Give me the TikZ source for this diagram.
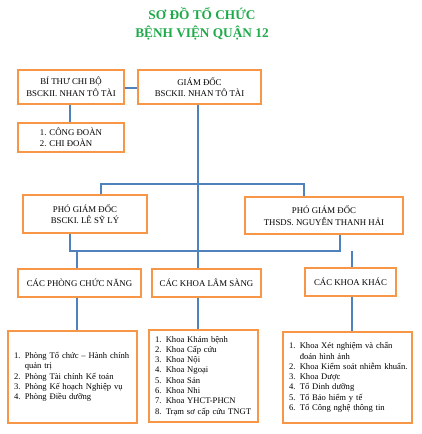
\documentclass[tikz,border=0pt]{standalone}
\usepackage{fontspec}
\setmainfont{Liberation Serif}
\definecolor{boxorange}{HTML}{F79646}
\definecolor{linkblue}{HTML}{4F81BD}
\definecolor{titlegreen}{HTML}{1FAA4A}
\begin{document}
\begin{tikzpicture}[x=1pt,y=-1pt,
  box/.style={draw=boxorange,line width=1.3pt,fill=white,inner sep=2pt,align=center,font=\fontsize{8.8}{11.5}\selectfont},
  listbox/.style={draw=boxorange,line width=1.3pt,fill=white,inner xsep=6pt,inner ysep=2pt,align=left,font=\fontsize{8.6}{10.3}\selectfont},
  link/.style={draw=linkblue,line width=1.3pt},
  title/.style={font=\fontsize{13.3}{18}\selectfont\bfseries,text=titlegreen,align=center}]
\useasboundingbox (0,0) rectangle (422,434);
\node[title] (t) at (202,24) {SƠ ĐỒ TỔ CHỨC\\BỆNH VIỆN QUẬN 12};
% level 1
\node[box,minimum width=106pt,minimum height=34pt] (bt) at (71,87) {BÍ THƯ CHI BỘ\\BSCKII. NHAN TÔ TÀI};
\node[box,minimum width=123pt,minimum height=34pt] (gd) at (199.5,87) {GIÁM ĐỐC\\BSCKII. NHAN TÔ TÀI};
\node[box,minimum width=106pt,minimum height=29pt,align=left] (cd) at (71,137.5) {1. CÔNG ĐOÀN\\2. CHI ĐOÀN};
% level 2
\node[box,minimum width=124pt,minimum height=38pt] (pgd1) at (85,214) {PHÓ GIÁM ĐỐC\\BSCKI. LÊ SỸ LÝ};
\node[box,minimum width=158pt,minimum height=37pt] (pgd2) at (324,215.5) {PHÓ GIÁM ĐỐC\\THSDS. NGUYỄN THANH HẢI};
% level 3
\node[box,minimum width=123pt,minimum height=28pt] (cpcn) at (79.5,283) {CÁC PHÒNG CHỨC NĂNG};
\node[box,minimum width=109pt,minimum height=28pt] (ckls) at (206.5,283) {CÁC KHOA LÂM SÀNG};
\node[box,minimum width=91pt,minimum height=28pt] (ckk) at (350.5,282) {CÁC KHOA KHÁC};
% level 4
\node[listbox,text width=117pt,minimum height=92pt] (b1) at (72.5,377) {1. Phòng Tổ chức – Hành chính\\\hphantom{1. }quản trị\\2. Phòng Tài chính Kế toán\\3. Phòng Kế hoạch Nghiệp vụ\\4. Phòng Điều dưỡng};
\node[listbox,text width=97pt,minimum height=92pt] (b2) at (203.5,376) {1. Khoa Khám bệnh\\2. Khoa Cấp cứu\\3. Khoa Nội\\4. Khoa Ngoại\\5. Khoa Sản\\6. Khoa Nhi\\7. Khoa YHCT-PHCN\\\mbox{8. Trạm sơ cấp cứu TNGT}};
\node[listbox,text width=117pt,minimum height=91pt] (b3) at (347.5,377.5) {1. Khoa Xét nghiệm và chẩn\\\hphantom{1. }đoán hình ảnh\\\mbox{2. Khoa Kiểm soát nhiễm khuẩn.}\\3. Khoa Dược\\4. Tổ Dinh dưỡng\\5. Tổ Bảo hiểm y tế\\6. Tổ Công nghệ thông tin};
% helper coordinates
\coordinate (xc) at (198,0);
\coordinate (xbt) at (70,0);
\coordinate (xp1) at (101,0);
\coordinate (xp2) at (304,0);
\coordinate (xq1) at (70,0);
\coordinate (xq2) at (340,0);
\coordinate (xl) at (77,0);
\coordinate (xr) at (352,0);
\coordinate (ya) at (0,184);
\coordinate (yb) at (0,251);
\coordinate (yc) at (0,88);
\coordinate (ja) at (xc |- ya);
\coordinate (jb) at (xc |- yb);
% connectors
\draw[link] (bt.east |- yc) -- (gd.west |- yc);
\draw[link] (bt.south -| xbt) -- (cd.north -| xbt);
\draw[link] (gd.south -| xc) -- (ja) -- (jb) -- (ckls.north -| xc);
\draw[link] (pgd1.north -| xp1) -- (ya -| xp1) -- (ya -| xp2) -- (pgd2.north -| xp2);
\draw[link] (pgd1.south -| xq1) -- (yb -| xq1) -- (yb -| xq2) -- (pgd2.south -| xq2);
\draw[link] (yb -| xl) -- (cpcn.north -| xl);
\draw[link] (yb -| xr) -- (ckk.north -| xr);
\draw[link] (cpcn.south -| xl) -- (b1.north -| xl);
\draw[link] (ckls.south -| xc) -- (b2.north -| xc);
\draw[link] (ckk.south -| xr) -- (b3.north -| xr);
\end{tikzpicture}
\end{document}
